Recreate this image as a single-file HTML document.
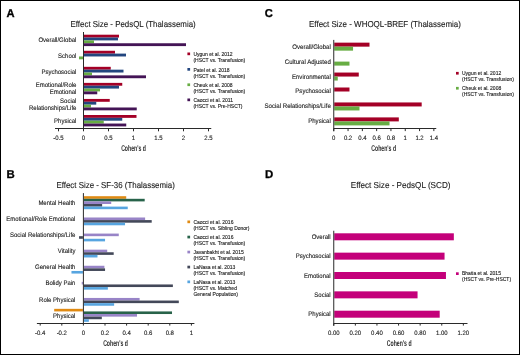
<!DOCTYPE html>
<html><head><meta charset="utf-8"><style>
html,body{margin:0;padding:0;background:#fff;}
svg{display:block;font-family:"Liberation Sans", sans-serif;will-change:transform;text-rendering:geometricPrecision;}
</style></head><body>
<svg width="520" height="355" viewBox="0 0 520 355">
<rect x="0" y="0" width="520" height="355" fill="#fff"/>
<text x="0" y="0" font-size="11.4" font-weight="bold" fill="#000" stroke="#000" stroke-width="0.3" transform="translate(6.6,17.0) scale(0.98,1)">A</text>
<text x="133.12" y="26.50" font-size="8.6" text-anchor="middle" font-weight="normal" fill="#222" stroke="#222" stroke-width="0.12" textLength="125.13" lengthAdjust="spacingAndGlyphs" >Effect Size - PedsQL (Thalassemia)</text>
<rect x="84.00" y="34.70" width="35.00" height="2.85" fill="#a40026"/>
<rect x="84.00" y="37.55" width="34.00" height="2.85" fill="#23467f"/>
<rect x="84.00" y="40.40" width="10.00" height="2.85" fill="#67ad43"/>
<rect x="84.00" y="43.25" width="102.00" height="2.85" fill="#441456"/>
<text x="76.40" y="42.20" font-size="6.6" text-anchor="end" font-weight="normal" fill="#222" stroke="#222" stroke-width="0.12" textLength="38.02" lengthAdjust="spacingAndGlyphs" >Overall/Global</text>
<rect x="84.00" y="50.76" width="31.00" height="2.85" fill="#a40026"/>
<rect x="84.00" y="53.61" width="42.00" height="2.85" fill="#23467f"/>
<rect x="79.00" y="56.46" width="4.00" height="2.85" fill="#67ad43"/>
<text x="76.40" y="58.26" font-size="6.6" text-anchor="end" font-weight="normal" fill="#222" stroke="#222" stroke-width="0.12" textLength="18.35" lengthAdjust="spacingAndGlyphs" >School</text>
<rect x="84.00" y="66.82" width="26.75" height="2.85" fill="#a40026"/>
<rect x="84.00" y="69.67" width="39.50" height="2.85" fill="#23467f"/>
<rect x="84.00" y="72.52" width="8.00" height="2.85" fill="#67ad43"/>
<rect x="84.00" y="75.37" width="62.00" height="2.85" fill="#441456"/>
<text x="76.40" y="74.32" font-size="6.6" text-anchor="end" font-weight="normal" fill="#222" stroke="#222" stroke-width="0.12" textLength="35.02" lengthAdjust="spacingAndGlyphs" >Psychosocial</text>
<rect x="84.00" y="82.88" width="38.25" height="2.85" fill="#a40026"/>
<rect x="84.00" y="85.73" width="35.00" height="2.85" fill="#23467f"/>
<rect x="84.00" y="88.58" width="16.00" height="2.85" fill="#67ad43"/>
<rect x="84.00" y="91.43" width="13.25" height="2.85" fill="#441456"/>
<text x="76.40" y="86.58" font-size="6.6" text-anchor="end" font-weight="normal" fill="#222" stroke="#222" stroke-width="0.12" textLength="40.69" lengthAdjust="spacingAndGlyphs" >Emotional/Role</text>
<text x="76.40" y="93.88" font-size="6.6" text-anchor="end" font-weight="normal" fill="#222" stroke="#222" stroke-width="0.12" textLength="26.68" lengthAdjust="spacingAndGlyphs" >Emotional</text>
<rect x="84.00" y="98.94" width="25.75" height="2.85" fill="#a40026"/>
<rect x="84.00" y="101.79" width="12.25" height="2.85" fill="#23467f"/>
<rect x="84.00" y="104.64" width="7.00" height="2.85" fill="#67ad43"/>
<rect x="84.00" y="107.49" width="52.75" height="2.85" fill="#441456"/>
<text x="76.40" y="102.64" font-size="6.6" text-anchor="end" font-weight="normal" fill="#222" stroke="#222" stroke-width="0.12" textLength="16.34" lengthAdjust="spacingAndGlyphs" >Social</text>
<text x="76.40" y="109.94" font-size="6.6" text-anchor="end" font-weight="normal" fill="#222" stroke="#222" stroke-width="0.12" textLength="47.36" lengthAdjust="spacingAndGlyphs" >Relationships/Life</text>
<rect x="84.00" y="115.00" width="52.50" height="2.85" fill="#a40026"/>
<rect x="84.00" y="117.85" width="38.25" height="2.85" fill="#23467f"/>
<rect x="84.00" y="120.70" width="19.75" height="2.85" fill="#67ad43"/>
<rect x="84.00" y="123.55" width="42.25" height="2.85" fill="#441456"/>
<text x="76.40" y="122.50" font-size="6.6" text-anchor="end" font-weight="normal" fill="#222" stroke="#222" stroke-width="0.12" textLength="22.34" lengthAdjust="spacingAndGlyphs" >Physical</text>
<line x1="83.50" y1="32.00" x2="83.50" y2="129.00" stroke="#2a2a2a" stroke-width="1"/>
<line x1="55.00" y1="128.50" x2="211.25" y2="128.50" stroke="#2a2a2a" stroke-width="1"/>
<line x1="58.50" y1="128.50" x2="58.50" y2="131.30" stroke="#2a2a2a" stroke-width="1"/>
<text x="58.50" y="140.00" font-size="6.3" text-anchor="middle" font-weight="normal" fill="#222" stroke="#222" stroke-width="0.12" textLength="10.34" lengthAdjust="spacingAndGlyphs" >-0.5</text>
<line x1="83.50" y1="128.50" x2="83.50" y2="131.30" stroke="#2a2a2a" stroke-width="1"/>
<text x="83.50" y="140.00" font-size="6.3" text-anchor="middle" font-weight="normal" fill="#222" stroke="#222" stroke-width="0.12" textLength="3.34" lengthAdjust="spacingAndGlyphs" >0</text>
<line x1="108.50" y1="128.50" x2="108.50" y2="131.30" stroke="#2a2a2a" stroke-width="1"/>
<text x="108.50" y="140.00" font-size="6.3" text-anchor="middle" font-weight="normal" fill="#222" stroke="#222" stroke-width="0.12" textLength="8.34" lengthAdjust="spacingAndGlyphs" >0.5</text>
<line x1="133.50" y1="128.50" x2="133.50" y2="131.30" stroke="#2a2a2a" stroke-width="1"/>
<text x="133.50" y="140.00" font-size="6.3" text-anchor="middle" font-weight="normal" fill="#222" stroke="#222" stroke-width="0.12" textLength="3.34" lengthAdjust="spacingAndGlyphs" >1</text>
<line x1="158.50" y1="128.50" x2="158.50" y2="131.30" stroke="#2a2a2a" stroke-width="1"/>
<text x="158.50" y="140.00" font-size="6.3" text-anchor="middle" font-weight="normal" fill="#222" stroke="#222" stroke-width="0.12" textLength="8.34" lengthAdjust="spacingAndGlyphs" >1.5</text>
<line x1="183.50" y1="128.50" x2="183.50" y2="131.30" stroke="#2a2a2a" stroke-width="1"/>
<text x="183.50" y="140.00" font-size="6.3" text-anchor="middle" font-weight="normal" fill="#222" stroke="#222" stroke-width="0.12" textLength="3.34" lengthAdjust="spacingAndGlyphs" >2</text>
<line x1="208.50" y1="128.50" x2="208.50" y2="131.30" stroke="#2a2a2a" stroke-width="1"/>
<text x="208.50" y="140.00" font-size="6.3" text-anchor="middle" font-weight="normal" fill="#222" stroke="#222" stroke-width="0.12" textLength="8.34" lengthAdjust="spacingAndGlyphs" >2.5</text>
<text x="0" y="0" font-size="8.4" font-weight="bold" text-anchor="middle" fill="#2a2a2a" transform="translate(133.50,151.10) scale(0.615,1)">Cohen's d</text>
<rect x="187.40" y="52.50" width="2.70" height="2.70" fill="#a40026"/>
<text x="193.40" y="56.10" font-size="5" text-anchor="start" font-weight="normal" fill="#222" stroke="#222" stroke-width="0.12" text-rendering="auto">Uygun et al. 2012</text>
<text x="193.40" y="62.15" font-size="5" text-anchor="start" font-weight="normal" fill="#222" stroke="#222" stroke-width="0.12" text-rendering="auto">(HSCT vs. Transfusion)</text>
<rect x="187.40" y="68.00" width="2.70" height="2.70" fill="#23467f"/>
<text x="193.40" y="71.60" font-size="5" text-anchor="start" font-weight="normal" fill="#222" stroke="#222" stroke-width="0.12" text-rendering="auto">Patel et al. 2018</text>
<text x="193.40" y="77.65" font-size="5" text-anchor="start" font-weight="normal" fill="#222" stroke="#222" stroke-width="0.12" text-rendering="auto">(HSCT vs. Transfusion)</text>
<rect x="187.40" y="83.40" width="2.70" height="2.70" fill="#67ad43"/>
<text x="193.40" y="87.00" font-size="5" text-anchor="start" font-weight="normal" fill="#222" stroke="#222" stroke-width="0.12" text-rendering="auto">Cheuk et al. 2008</text>
<text x="193.40" y="93.05" font-size="5" text-anchor="start" font-weight="normal" fill="#222" stroke="#222" stroke-width="0.12" text-rendering="auto">(HSCT vs. Transfusion)</text>
<rect x="187.40" y="98.50" width="2.70" height="2.70" fill="#441456"/>
<text x="193.40" y="102.10" font-size="5" text-anchor="start" font-weight="normal" fill="#222" stroke="#222" stroke-width="0.12" text-rendering="auto">Caocci et al. 2011</text>
<text x="193.40" y="108.15" font-size="5" text-anchor="start" font-weight="normal" fill="#222" stroke="#222" stroke-width="0.12" text-rendering="auto">(HSCT vs. Pre-HSCT)</text>
<text x="0" y="0" font-size="11.4" font-weight="bold" fill="#000" stroke="#000" stroke-width="0.3" transform="translate(6.6,178.3) scale(1.0,1)">B</text>
<text x="115.65" y="188.30" font-size="8.6" text-anchor="middle" font-weight="normal" fill="#222" stroke="#222" stroke-width="0.12" textLength="118.39" lengthAdjust="spacingAndGlyphs" >Effect Size - SF-36 (Thalassemia)</text>
<rect x="83.90" y="196.20" width="42.32" height="2.60" fill="#e08a12"/>
<rect x="83.90" y="198.80" width="60.79" height="2.60" fill="#28634a"/>
<rect x="83.90" y="201.40" width="27.31" height="2.60" fill="#9884c7"/>
<rect x="83.90" y="204.00" width="18.23" height="2.60" fill="#434859"/>
<rect x="83.90" y="206.60" width="43.83" height="2.60" fill="#57a5e0"/>
<text x="75.40" y="205.00" font-size="6.6" text-anchor="end" font-weight="normal" fill="#222" stroke="#222" stroke-width="0.12" textLength="37.02" lengthAdjust="spacingAndGlyphs" >Mental Health</text>
<rect x="83.90" y="217.49" width="61.22" height="2.60" fill="#9884c7"/>
<rect x="83.90" y="220.09" width="67.81" height="2.60" fill="#434859"/>
<rect x="83.90" y="222.69" width="41.13" height="2.60" fill="#57a5e0"/>
<text x="75.40" y="221.09" font-size="6.6" text-anchor="end" font-weight="normal" fill="#222" stroke="#222" stroke-width="0.12" textLength="69.04" lengthAdjust="spacingAndGlyphs" >Emotional/Role Emotional</text>
<rect x="83.90" y="233.58" width="34.87" height="2.60" fill="#9884c7"/>
<rect x="79.03" y="236.18" width="3.87" height="2.60" fill="#434859"/>
<rect x="83.90" y="238.78" width="21.15" height="2.60" fill="#57a5e0"/>
<text x="75.40" y="237.18" font-size="6.6" text-anchor="end" font-weight="normal" fill="#222" stroke="#222" stroke-width="0.12" textLength="65.37" lengthAdjust="spacingAndGlyphs" >Social Relationships/Life</text>
<rect x="83.90" y="249.67" width="23.31" height="2.60" fill="#9884c7"/>
<rect x="83.90" y="252.27" width="29.79" height="2.60" fill="#434859"/>
<rect x="83.90" y="254.87" width="13.59" height="2.60" fill="#57a5e0"/>
<text x="75.40" y="253.27" font-size="6.6" text-anchor="end" font-weight="normal" fill="#222" stroke="#222" stroke-width="0.12" textLength="17.56" lengthAdjust="spacingAndGlyphs" >Vitality</text>
<rect x="83.90" y="265.76" width="20.50" height="2.60" fill="#9884c7"/>
<rect x="83.90" y="268.36" width="21.15" height="2.60" fill="#434859"/>
<rect x="71.47" y="270.96" width="11.43" height="2.60" fill="#57a5e0"/>
<text x="75.40" y="269.36" font-size="6.6" text-anchor="end" font-weight="normal" fill="#222" stroke="#222" stroke-width="0.12" textLength="40.36" lengthAdjust="spacingAndGlyphs" >General Health</text>
<rect x="81.73" y="281.85" width="1.17" height="2.60" fill="#9884c7"/>
<rect x="83.90" y="284.45" width="88.97" height="2.60" fill="#434859"/>
<rect x="83.90" y="287.05" width="23.96" height="2.60" fill="#57a5e0"/>
<text x="75.40" y="285.45" font-size="6.6" text-anchor="end" font-weight="normal" fill="#222" stroke="#222" stroke-width="0.12" textLength="30.02" lengthAdjust="spacingAndGlyphs" >Bolidy Pain</text>
<rect x="83.90" y="297.94" width="55.71" height="2.60" fill="#9884c7"/>
<rect x="83.90" y="300.54" width="94.91" height="2.60" fill="#434859"/>
<rect x="83.90" y="303.14" width="30.22" height="2.60" fill="#57a5e0"/>
<text x="75.40" y="301.54" font-size="6.6" text-anchor="end" font-weight="normal" fill="#222" stroke="#222" stroke-width="0.12" textLength="36.35" lengthAdjust="spacingAndGlyphs" >Role Physical</text>
<rect x="54.19" y="308.83" width="28.71" height="2.60" fill="#e08a12"/>
<rect x="83.90" y="311.43" width="88.11" height="2.60" fill="#28634a"/>
<rect x="83.90" y="314.03" width="53.12" height="2.60" fill="#9884c7"/>
<rect x="83.90" y="316.63" width="17.91" height="2.60" fill="#434859"/>
<rect x="83.90" y="319.23" width="4.95" height="2.60" fill="#57a5e0"/>
<text x="75.40" y="317.63" font-size="6.6" text-anchor="end" font-weight="normal" fill="#222" stroke="#222" stroke-width="0.12" textLength="22.34" lengthAdjust="spacingAndGlyphs" >Physical</text>
<line x1="83.40" y1="193.10" x2="83.40" y2="324.00" stroke="#2a2a2a" stroke-width="1"/>
<line x1="36.90" y1="323.50" x2="194.40" y2="323.50" stroke="#2a2a2a" stroke-width="1"/>
<line x1="40.20" y1="323.50" x2="40.20" y2="325.60" stroke="#2a2a2a" stroke-width="1"/>
<text x="40.20" y="334.70" font-size="6.3" text-anchor="middle" font-weight="normal" fill="#222" stroke="#222" stroke-width="0.12" textLength="10.34" lengthAdjust="spacingAndGlyphs" >-0.4</text>
<line x1="61.80" y1="323.50" x2="61.80" y2="325.60" stroke="#2a2a2a" stroke-width="1"/>
<text x="61.80" y="334.70" font-size="6.3" text-anchor="middle" font-weight="normal" fill="#222" stroke="#222" stroke-width="0.12" textLength="10.34" lengthAdjust="spacingAndGlyphs" >-0.2</text>
<line x1="83.40" y1="323.50" x2="83.40" y2="325.60" stroke="#2a2a2a" stroke-width="1"/>
<text x="83.40" y="334.70" font-size="6.3" text-anchor="middle" font-weight="normal" fill="#222" stroke="#222" stroke-width="0.12" textLength="3.34" lengthAdjust="spacingAndGlyphs" >0</text>
<line x1="105.00" y1="323.50" x2="105.00" y2="325.60" stroke="#2a2a2a" stroke-width="1"/>
<text x="105.00" y="334.70" font-size="6.3" text-anchor="middle" font-weight="normal" fill="#222" stroke="#222" stroke-width="0.12" textLength="8.34" lengthAdjust="spacingAndGlyphs" >0.2</text>
<line x1="126.60" y1="323.50" x2="126.60" y2="325.60" stroke="#2a2a2a" stroke-width="1"/>
<text x="126.60" y="334.70" font-size="6.3" text-anchor="middle" font-weight="normal" fill="#222" stroke="#222" stroke-width="0.12" textLength="8.34" lengthAdjust="spacingAndGlyphs" >0.4</text>
<line x1="148.20" y1="323.50" x2="148.20" y2="325.60" stroke="#2a2a2a" stroke-width="1"/>
<text x="148.20" y="334.70" font-size="6.3" text-anchor="middle" font-weight="normal" fill="#222" stroke="#222" stroke-width="0.12" textLength="8.34" lengthAdjust="spacingAndGlyphs" >0.6</text>
<line x1="169.80" y1="323.50" x2="169.80" y2="325.60" stroke="#2a2a2a" stroke-width="1"/>
<text x="169.80" y="334.70" font-size="6.3" text-anchor="middle" font-weight="normal" fill="#222" stroke="#222" stroke-width="0.12" textLength="8.34" lengthAdjust="spacingAndGlyphs" >0.8</text>
<line x1="191.40" y1="323.50" x2="191.40" y2="325.60" stroke="#2a2a2a" stroke-width="1"/>
<text x="191.40" y="334.70" font-size="6.3" text-anchor="middle" font-weight="normal" fill="#222" stroke="#222" stroke-width="0.12" textLength="3.34" lengthAdjust="spacingAndGlyphs" >1</text>
<text x="0" y="0" font-size="8.4" font-weight="bold" text-anchor="middle" fill="#2a2a2a" transform="translate(115.50,345.80) scale(0.615,1)">Cohen's d</text>
<rect x="187.40" y="220.50" width="2.70" height="2.70" fill="#e08a12"/>
<text x="193.40" y="223.90" font-size="5" text-anchor="start" font-weight="normal" fill="#222" stroke="#222" stroke-width="0.12" text-rendering="auto">Caocci et al. 2016</text>
<text x="193.40" y="229.95" font-size="5" text-anchor="start" font-weight="normal" fill="#222" stroke="#222" stroke-width="0.12" text-rendering="auto">(HSCT vs. Sibling Donor)</text>
<rect x="187.40" y="235.70" width="2.70" height="2.70" fill="#28634a"/>
<text x="193.40" y="239.10" font-size="5" text-anchor="start" font-weight="normal" fill="#222" stroke="#222" stroke-width="0.12" text-rendering="auto">Caocci et al. 2016</text>
<text x="193.40" y="245.15" font-size="5" text-anchor="start" font-weight="normal" fill="#222" stroke="#222" stroke-width="0.12" text-rendering="auto">(HSCT vs. Transfusion)</text>
<rect x="187.40" y="250.70" width="2.70" height="2.70" fill="#9884c7"/>
<text x="193.40" y="254.10" font-size="5" text-anchor="start" font-weight="normal" fill="#222" stroke="#222" stroke-width="0.12" text-rendering="auto">Javanbakht et al. 2015</text>
<text x="193.40" y="260.15" font-size="5" text-anchor="start" font-weight="normal" fill="#222" stroke="#222" stroke-width="0.12" text-rendering="auto">(HSCT vs. Transfusion)</text>
<rect x="187.40" y="265.70" width="2.70" height="2.70" fill="#434859"/>
<text x="193.40" y="269.10" font-size="5" text-anchor="start" font-weight="normal" fill="#222" stroke="#222" stroke-width="0.12" text-rendering="auto">LaNasa et al. 2013</text>
<text x="193.40" y="275.15" font-size="5" text-anchor="start" font-weight="normal" fill="#222" stroke="#222" stroke-width="0.12" text-rendering="auto">(HSCT vs. Transfusion)</text>
<rect x="187.40" y="280.50" width="2.70" height="2.70" fill="#57a5e0"/>
<text x="193.40" y="283.90" font-size="5" text-anchor="start" font-weight="normal" fill="#222" stroke="#222" stroke-width="0.12" text-rendering="auto">LaNasa et al. 2013</text>
<text x="193.40" y="289.95" font-size="5" text-anchor="start" font-weight="normal" fill="#222" stroke="#222" stroke-width="0.12" text-rendering="auto">(HSCT vs. Matched</text>
<text x="193.40" y="296.00" font-size="5" text-anchor="start" font-weight="normal" fill="#222" stroke="#222" stroke-width="0.12" text-rendering="auto">General Population)</text>
<text x="0" y="0" font-size="11.4" font-weight="bold" fill="#000" stroke="#000" stroke-width="0.3" transform="translate(264.8,17.0) scale(0.98,1)">C</text>
<text x="385.00" y="27.00" font-size="8.6" text-anchor="middle" font-weight="normal" fill="#222" stroke="#222" stroke-width="0.12" textLength="151.95" lengthAdjust="spacingAndGlyphs" >Effect Size - WHOQL-BREF (Thalassemia)</text>
<rect x="334.25" y="42.65" width="35.25" height="4.00" fill="#a40026"/>
<rect x="334.25" y="46.65" width="18.80" height="4.00" fill="#67ad43"/>
<text x="330.80" y="48.60" font-size="6.6" text-anchor="end" font-weight="normal" fill="#222" stroke="#222" stroke-width="0.12" textLength="38.52" lengthAdjust="spacingAndGlyphs" >Overall/Global</text>
<rect x="334.25" y="61.60" width="15.23" height="4.00" fill="#67ad43"/>
<text x="330.80" y="63.55" font-size="6.6" text-anchor="end" font-weight="normal" fill="#222" stroke="#222" stroke-width="0.12" textLength="45.97" lengthAdjust="spacingAndGlyphs" >Cultural Adjusted</text>
<rect x="334.25" y="72.55" width="24.52" height="4.00" fill="#a40026"/>
<rect x="334.25" y="76.55" width="3.50" height="4.00" fill="#67ad43"/>
<text x="330.80" y="78.50" font-size="6.6" text-anchor="end" font-weight="normal" fill="#222" stroke="#222" stroke-width="0.12" textLength="38.86" lengthAdjust="spacingAndGlyphs" >Environmental</text>
<rect x="334.25" y="87.50" width="15.23" height="4.00" fill="#a40026"/>
<text x="330.80" y="93.45" font-size="6.6" text-anchor="end" font-weight="normal" fill="#222" stroke="#222" stroke-width="0.12" textLength="35.48" lengthAdjust="spacingAndGlyphs" >Psychosocial</text>
<rect x="334.25" y="102.45" width="87.44" height="4.00" fill="#a40026"/>
<rect x="334.25" y="106.45" width="25.24" height="4.00" fill="#67ad43"/>
<text x="330.80" y="108.40" font-size="6.6" text-anchor="end" font-weight="normal" fill="#222" stroke="#222" stroke-width="0.12" textLength="66.24" lengthAdjust="spacingAndGlyphs" >Social Relationships/Life</text>
<rect x="334.25" y="117.40" width="64.56" height="4.00" fill="#a40026"/>
<rect x="334.25" y="121.40" width="55.27" height="4.00" fill="#67ad43"/>
<text x="330.80" y="123.35" font-size="6.6" text-anchor="end" font-weight="normal" fill="#222" stroke="#222" stroke-width="0.12" textLength="22.64" lengthAdjust="spacingAndGlyphs" >Physical</text>
<line x1="333.75" y1="39.90" x2="333.75" y2="131.30" stroke="#2a2a2a" stroke-width="1"/>
<line x1="333.75" y1="128.50" x2="436.25" y2="128.50" stroke="#2a2a2a" stroke-width="1"/>
<line x1="333.75" y1="128.50" x2="333.75" y2="131.10" stroke="#2a2a2a" stroke-width="1"/>
<text x="333.75" y="139.80" font-size="6.3" text-anchor="middle" font-weight="normal" fill="#222" stroke="#222" stroke-width="0.12" textLength="3.34" lengthAdjust="spacingAndGlyphs" >0</text>
<line x1="348.05" y1="128.50" x2="348.05" y2="131.10" stroke="#2a2a2a" stroke-width="1"/>
<text x="348.05" y="139.80" font-size="6.3" text-anchor="middle" font-weight="normal" fill="#222" stroke="#222" stroke-width="0.12" textLength="8.34" lengthAdjust="spacingAndGlyphs" >0.2</text>
<line x1="362.35" y1="128.50" x2="362.35" y2="131.10" stroke="#2a2a2a" stroke-width="1"/>
<text x="362.35" y="139.80" font-size="6.3" text-anchor="middle" font-weight="normal" fill="#222" stroke="#222" stroke-width="0.12" textLength="8.34" lengthAdjust="spacingAndGlyphs" >0.4</text>
<line x1="376.65" y1="128.50" x2="376.65" y2="131.10" stroke="#2a2a2a" stroke-width="1"/>
<text x="376.65" y="139.80" font-size="6.3" text-anchor="middle" font-weight="normal" fill="#222" stroke="#222" stroke-width="0.12" textLength="8.34" lengthAdjust="spacingAndGlyphs" >0.6</text>
<line x1="390.95" y1="128.50" x2="390.95" y2="131.10" stroke="#2a2a2a" stroke-width="1"/>
<text x="390.95" y="139.80" font-size="6.3" text-anchor="middle" font-weight="normal" fill="#222" stroke="#222" stroke-width="0.12" textLength="8.34" lengthAdjust="spacingAndGlyphs" >0.8</text>
<line x1="405.25" y1="128.50" x2="405.25" y2="131.10" stroke="#2a2a2a" stroke-width="1"/>
<text x="405.25" y="139.80" font-size="6.3" text-anchor="middle" font-weight="normal" fill="#222" stroke="#222" stroke-width="0.12" textLength="3.34" lengthAdjust="spacingAndGlyphs" >1</text>
<line x1="419.55" y1="128.50" x2="419.55" y2="131.10" stroke="#2a2a2a" stroke-width="1"/>
<text x="419.55" y="139.80" font-size="6.3" text-anchor="middle" font-weight="normal" fill="#222" stroke="#222" stroke-width="0.12" textLength="8.34" lengthAdjust="spacingAndGlyphs" >1.2</text>
<line x1="433.85" y1="128.50" x2="433.85" y2="131.10" stroke="#2a2a2a" stroke-width="1"/>
<text x="433.85" y="139.80" font-size="6.3" text-anchor="middle" font-weight="normal" fill="#222" stroke="#222" stroke-width="0.12" textLength="8.34" lengthAdjust="spacingAndGlyphs" >1.4</text>
<text x="0" y="0" font-size="8.4" font-weight="bold" text-anchor="middle" fill="#2a2a2a" transform="translate(383.70,151.10) scale(0.615,1)">Cohen's d</text>
<rect x="456.00" y="71.90" width="2.70" height="2.70" fill="#a40026"/>
<text x="462.00" y="74.80" font-size="5" text-anchor="start" font-weight="normal" fill="#222" stroke="#222" stroke-width="0.12" text-rendering="auto">Uygun et al. 2012</text>
<text x="462.00" y="80.85" font-size="5" text-anchor="start" font-weight="normal" fill="#222" stroke="#222" stroke-width="0.12" text-rendering="auto">(HSCT vs. Transfusion)</text>
<rect x="456.00" y="86.90" width="2.70" height="2.70" fill="#67ad43"/>
<text x="462.00" y="89.80" font-size="5" text-anchor="start" font-weight="normal" fill="#222" stroke="#222" stroke-width="0.12" text-rendering="auto">Cheuk et al. 2008</text>
<text x="462.00" y="95.85" font-size="5" text-anchor="start" font-weight="normal" fill="#222" stroke="#222" stroke-width="0.12" text-rendering="auto">(HSCT vs. Transfusion)</text>
<text x="0" y="0" font-size="11.4" font-weight="bold" fill="#000" stroke="#000" stroke-width="0.3" transform="translate(265.0,178.3) scale(1.0,1)">D</text>
<text x="400.60" y="188.30" font-size="8.6" text-anchor="middle" font-weight="normal" fill="#222" stroke="#222" stroke-width="0.12" textLength="99.73" lengthAdjust="spacingAndGlyphs" >Effect Size - PedsQL (SCD)</text>
<rect x="334.25" y="233.30" width="119.59" height="7.00" fill="#c4007a"/>
<text x="330.70" y="238.95" font-size="6.6" text-anchor="end" font-weight="normal" fill="#222" stroke="#222" stroke-width="0.12" textLength="19.00" lengthAdjust="spacingAndGlyphs" >Overall</text>
<rect x="334.25" y="252.65" width="110.30" height="7.00" fill="#c4007a"/>
<text x="330.70" y="258.30" font-size="6.6" text-anchor="end" font-weight="normal" fill="#222" stroke="#222" stroke-width="0.12" textLength="35.02" lengthAdjust="spacingAndGlyphs" >Psychosocial</text>
<rect x="334.25" y="272.00" width="111.70" height="7.00" fill="#c4007a"/>
<text x="330.70" y="277.65" font-size="6.6" text-anchor="end" font-weight="normal" fill="#222" stroke="#222" stroke-width="0.12" textLength="26.68" lengthAdjust="spacingAndGlyphs" >Emotional</text>
<rect x="334.25" y="291.35" width="83.30" height="7.00" fill="#c4007a"/>
<text x="330.70" y="297.00" font-size="6.6" text-anchor="end" font-weight="normal" fill="#222" stroke="#222" stroke-width="0.12" textLength="16.34" lengthAdjust="spacingAndGlyphs" >Social</text>
<rect x="334.25" y="310.70" width="105.44" height="7.00" fill="#c4007a"/>
<text x="330.70" y="316.35" font-size="6.6" text-anchor="end" font-weight="normal" fill="#222" stroke="#222" stroke-width="0.12" textLength="22.34" lengthAdjust="spacingAndGlyphs" >Physical</text>
<line x1="333.75" y1="230.75" x2="333.75" y2="325.80" stroke="#2a2a2a" stroke-width="1"/>
<line x1="333.75" y1="323.50" x2="467.50" y2="323.50" stroke="#2a2a2a" stroke-width="1"/>
<line x1="333.75" y1="323.50" x2="333.75" y2="325.60" stroke="#2a2a2a" stroke-width="1"/>
<text x="333.75" y="334.50" font-size="6.3" text-anchor="middle" font-weight="normal" fill="#222" stroke="#222" stroke-width="0.12" textLength="11.68" lengthAdjust="spacingAndGlyphs" >0.00</text>
<line x1="355.35" y1="323.50" x2="355.35" y2="325.60" stroke="#2a2a2a" stroke-width="1"/>
<text x="355.35" y="334.50" font-size="6.3" text-anchor="middle" font-weight="normal" fill="#222" stroke="#222" stroke-width="0.12" textLength="11.68" lengthAdjust="spacingAndGlyphs" >0.20</text>
<line x1="376.95" y1="323.50" x2="376.95" y2="325.60" stroke="#2a2a2a" stroke-width="1"/>
<text x="376.95" y="334.50" font-size="6.3" text-anchor="middle" font-weight="normal" fill="#222" stroke="#222" stroke-width="0.12" textLength="11.68" lengthAdjust="spacingAndGlyphs" >0.40</text>
<line x1="398.55" y1="323.50" x2="398.55" y2="325.60" stroke="#2a2a2a" stroke-width="1"/>
<text x="398.55" y="334.50" font-size="6.3" text-anchor="middle" font-weight="normal" fill="#222" stroke="#222" stroke-width="0.12" textLength="11.68" lengthAdjust="spacingAndGlyphs" >0.60</text>
<line x1="420.15" y1="323.50" x2="420.15" y2="325.60" stroke="#2a2a2a" stroke-width="1"/>
<text x="420.15" y="334.50" font-size="6.3" text-anchor="middle" font-weight="normal" fill="#222" stroke="#222" stroke-width="0.12" textLength="11.68" lengthAdjust="spacingAndGlyphs" >0.80</text>
<line x1="441.75" y1="323.50" x2="441.75" y2="325.60" stroke="#2a2a2a" stroke-width="1"/>
<text x="441.75" y="334.50" font-size="6.3" text-anchor="middle" font-weight="normal" fill="#222" stroke="#222" stroke-width="0.12" textLength="11.68" lengthAdjust="spacingAndGlyphs" >1.00</text>
<line x1="463.35" y1="323.50" x2="463.35" y2="325.60" stroke="#2a2a2a" stroke-width="1"/>
<text x="463.35" y="334.50" font-size="6.3" text-anchor="middle" font-weight="normal" fill="#222" stroke="#222" stroke-width="0.12" textLength="11.68" lengthAdjust="spacingAndGlyphs" >1.20</text>
<text x="0" y="0" font-size="8.4" font-weight="bold" text-anchor="middle" fill="#2a2a2a" transform="translate(399.20,345.80) scale(0.615,1)">Cohen's d</text>
<rect x="456.00" y="272.30" width="2.70" height="2.70" fill="#c4007a"/>
<text x="462.00" y="275.40" font-size="5" text-anchor="start" font-weight="normal" fill="#222" stroke="#222" stroke-width="0.12" text-rendering="auto">Bhatia et al. 2015</text>
<text x="462.00" y="281.45" font-size="5" text-anchor="start" font-weight="normal" fill="#222" stroke="#222" stroke-width="0.12" text-rendering="auto">(HSCT vs. Pre-HSCT)</text>
<rect x="0.5" y="0.5" width="519" height="354" fill="none" stroke="#000" stroke-width="1"/>
</svg>
</body></html>
